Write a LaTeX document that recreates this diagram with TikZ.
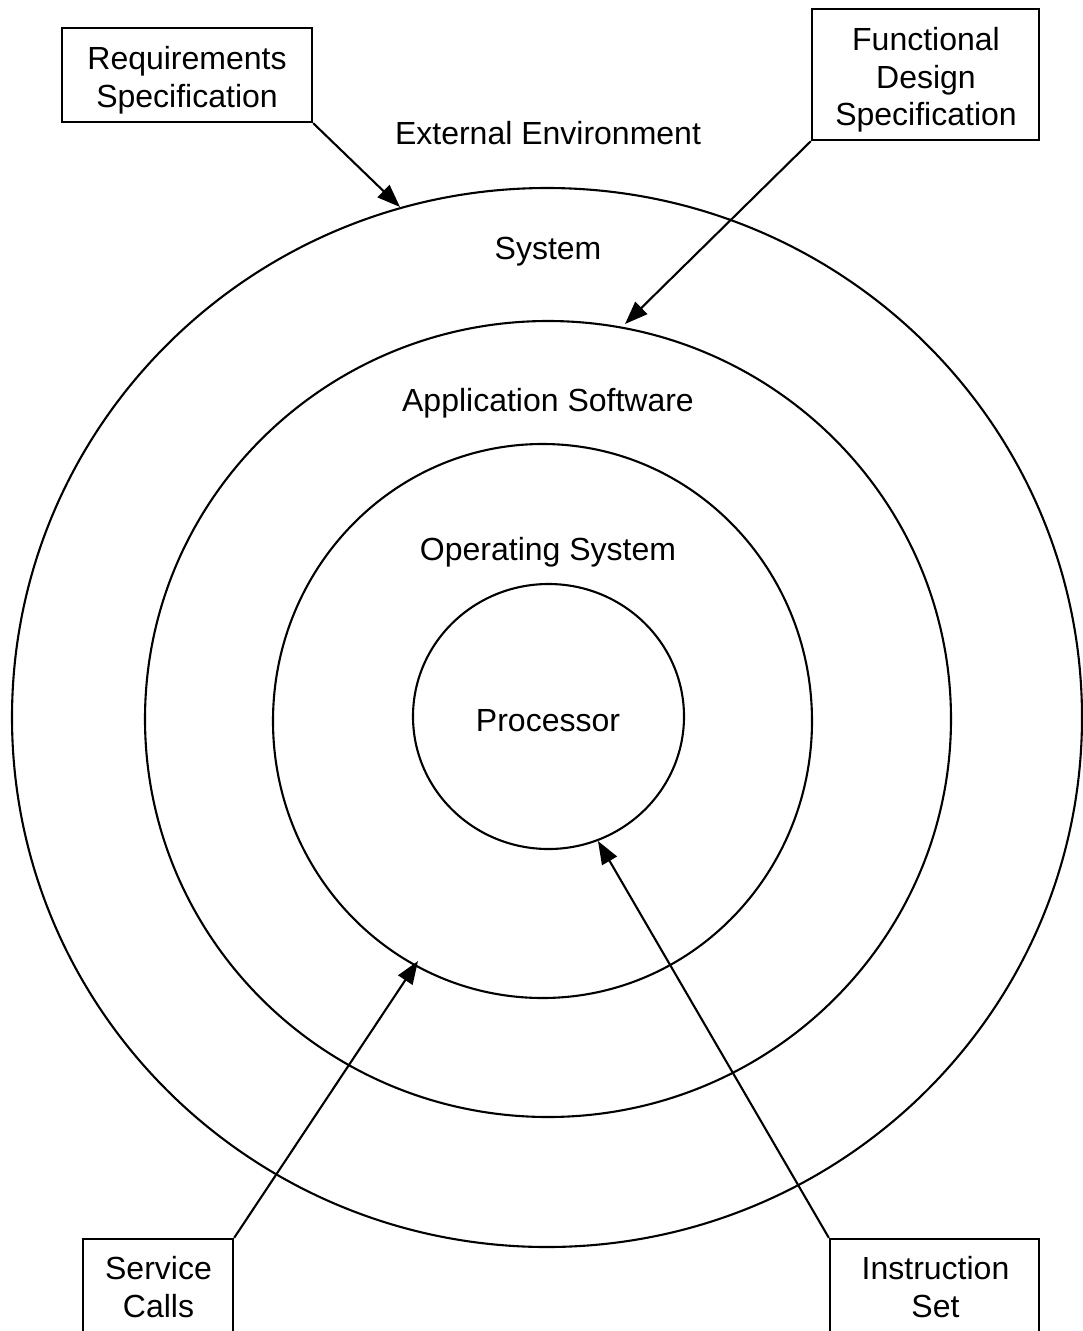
\documentclass[tikz,border=0pt]{standalone}
\usepackage{fontspec}
\setmainfont{Liberation Sans}
\usetikzlibrary{arrows.meta}
\newcommand\diafont{\fontsize{32}{37.5}\selectfont}
\begin{document}
\begin{tikzpicture}[x=1pt,y=-1pt,
  ring/.style={line width=2.1pt},
  boxn/.style={draw, line width=2.3pt, inner sep=0pt},
  lbl/.style={font=\diafont, inner sep=0pt, align=center},
  arr/.style={line width=2.1pt, -{Triangle[length=23pt,width=17pt]}}]
\useasboundingbox (0,0) rectangle (1082,1331);
\fill[white] (0,0) rectangle (1082,1331);
% rings
\draw[ring] (547,717.5) ellipse [x radius=535pt, y radius=529.5pt];
\draw[ring] (548,719) ellipse [x radius=403pt, y radius=398pt];
\draw[ring] (542.5,721) ellipse [x radius=269.5pt, y radius=277pt];
\draw[ring] (548.5,716.5) ellipse [x radius=135.5pt, y radius=132.5pt];
% arrow tips on the rings
\coordinate (tipsys) at (400,207);
\coordinate (tipapp) at (625,324);
\coordinate (tipos) at (418,961);
\coordinate (tipproc) at (598,841);
% ring labels
\node[lbl, anchor=base] (ext) at (548,144) {External Environment};
\node[lbl, anchor=base] (sys) at (548,259) {System};
\node[lbl, anchor=base] (app) at (548,411) {Application Software};
\node[lbl, anchor=base] (os) at (548,560) {Operating System};
\node[lbl, anchor=base] (proc) at (548,731) {Processor};
% boxes
\node[boxn, minimum width=250pt, minimum height=94pt] (req) at (187,75) {};
\node[lbl] (reqt) at (187,80.2) {Requirements\\Specification};
\node[boxn, minimum width=227pt, minimum height=131pt] (fds) at (925.5,74.5) {};
\node[lbl] (fdst) at (926,80.2) {Functional\\Design\\Specification};
\node[boxn, minimum width=150pt, minimum height=106pt] (svc) at (158,1292) {};
\node[lbl] (svct) at (158.5,1287) {Service\\Calls};
\node[boxn, minimum width=209pt, minimum height=106pt] (ins) at (934.5,1292) {};
\node[lbl] (inst) at (935.5,1287) {Instruction\\Set};
% connectors
\draw[arr] (req.south east) -- (tipsys);
\draw[arr] (fds.south west) -- (tipapp);
\draw[arr] (svc.north east) -- (tipos);
\draw[arr] (ins.north west) -- (tipproc);
\end{tikzpicture}
\end{document}
